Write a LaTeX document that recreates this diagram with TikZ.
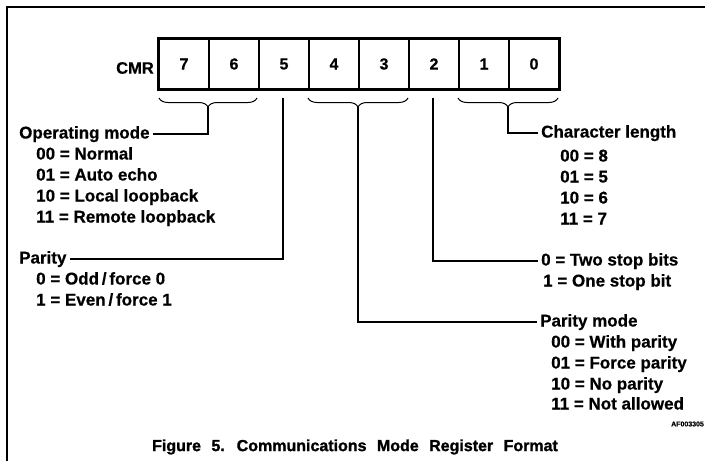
\documentclass[tikz,border=0pt]{standalone}
\usepackage{fontspec}
\setmainfont{Liberation Sans}
\newfontfamily\titlefont{Liberation Sans Bold}[FakeBold=1.4]
\newfontfamily\lblfont{Liberation Sans Bold}[FakeBold=0.6]
\usetikzlibrary{decorations.pathreplacing}
\begin{document}
\begin{tikzpicture}[x=1pt,y=-1pt,
  lbl/.style={font=\fontsize{17}{20}\selectfont\lblfont, anchor=west, inner sep=3pt, text height=9pt, text depth=0pt},
  bitcell/.style={draw, line width=1.2pt, minimum width=50pt, minimum height=50pt, inner sep=0pt, font=\fontsize{16}{19}\selectfont\lblfont},
  conn/.style={line width=1.3pt},
  brc/.style={decorate, decoration={brace, mirror, amplitude=9pt}, line width=1pt}]
\useasboundingbox (0,0) rectangle (705,461);
% frame
\draw[line width=1.8pt] (7,461) -- (7,7) -- (710,7);
% register
\node[bitcell] (c7) at (184,64) {7};
\node[bitcell] (c6) at (234,64) {6};
\node[bitcell] (c5) at (284,64) {5};
\node[bitcell] (c4) at (334,64) {4};
\node[bitcell] (c3) at (384,64) {3};
\node[bitcell] (c2) at (434,64) {2};
\node[bitcell] (c1) at (484,64) {1};
\node[bitcell] (c0) at (534,64) {0};
\draw[line width=2.2pt] (c7.north west) rectangle (c0.south east);
\node[font=\fontsize{16.5}{19}\selectfont\lblfont, anchor=east, inner sep=0pt] (cmr) at (154,68) {CMR};
% braces
\draw[brc] (159,98) -- (257,98);
\draw[brc] (308,98) -- (408,98);
\draw[brc] (458,98) -- (558,98);
\coordinate (t76) at (208,107);
\coordinate (t43) at (358,107);
\coordinate (t10) at (508,107);
\coordinate (b5) at (283,98);
\coordinate (b2) at (433,98);
% left labels
\node[lbl] (opmode) at (16,134) {Operating mode};
\node[lbl] (om0) at (33,155) {00 = Normal};
\node[lbl] (om1) at (33,176) {01 = Auto echo};
\node[lbl] (om2) at (33,197) {10 = Local loopback};
\node[lbl] (om3) at (33,218) {11 = Remote loopback};
\node[lbl] (parity) at (16,259) {Parity};
\node[lbl] (p0) at (33,280) {0 = Odd\,/\,force 0};
\node[lbl] (p1) at (33,301) {1 = Even\,/\,force 1};
% right labels
\node[lbl] (clen) at (538,133) {Character length};
\node[lbl] (cl0) at (557,157) {00 = 8};
\node[lbl] (cl1) at (557,178) {01 = 5};
\node[lbl] (cl2) at (557,199) {10 = 6};
\node[lbl] (cl3) at (557,220) {11 = 7};
\node[lbl] (sb0) at (538,261) {0 = Two stop bits};
\node[lbl] (sb1) at (540,282) {1 = One stop bit};
\node[lbl] (pmode) at (537,322) {Parity mode};
\node[lbl] (pm0) at (548,343) {00 = With parity};
\node[lbl] (pm1) at (548,364) {01 = Force parity};
\node[lbl] (pm2) at (548,385) {10 = No parity};
\node[lbl] (pm3) at (548,405) {11 = Not allowed};
% connectors
\draw[conn] (t76) |- (opmode.east);
\draw[conn] (b5) |- (parity.east);
\draw[conn] (t43) |- (pmode.west);
\draw[conn] (b2) |- (sb0.west);
\draw[conn] (t10) |- (clen.west);
% code and title
\node[font=\fontsize{7}{8}\selectfont\lblfont, anchor=west, inner sep=0pt] (code) at (671,424) {AF003305};
\node[font=\fontsize{16}{19}\selectfont\titlefont, inner sep=0pt] (title) at (355,447)
  {Figure\hspace{6pt} 5.\hspace{6pt} Communications\hspace{6pt} Mode\hspace{6pt} Register\hspace{6pt} Format};
\end{tikzpicture}
\end{document}
